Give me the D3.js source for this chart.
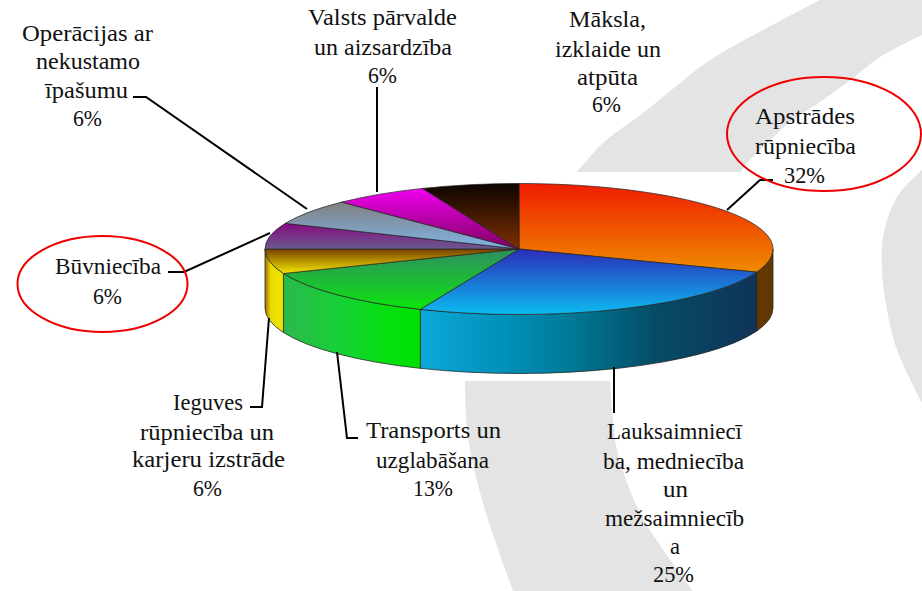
<!DOCTYPE html>
<html><head><meta charset="utf-8">
<script src="https://cdn.jsdelivr.net/npm/d3@7/dist/d3.min.js"></script>
<style>html,body{margin:0;padding:0;background:#fff;overflow:hidden}svg{display:block}text{font-family:"Liberation Serif",serif;fill:#111}</style>
</head><body><svg id="c" width="922" height="591"></svg>
<script>
// ---- data ----
const categories = ["Apstrādes rūpniecība","Lauksaimniecība, medniecība un mežsaimniecība","Transports un uzglabāšana","Ieguves rūpniecība un karjeru izstrāde","Būvniecība","Operācijas ar nekustamo īpašumu","Valsts pārvalde un aizsardzība","Māksla, izklaide un atpūta"];
const percentLabels = [32,25,13,6,6,6,6,6];
// slice shares as actually drawn in the tilted picture (percent of the turn, measured from the slice boundaries)
const sliceShares = [30.75,25.6,12.55,6.1,6.4,6.3,6.1,6.2];
const labelLines = [
 ["Apstrādes","rūpniecība"],
 ["Lauksaimniecī","ba, medniecība","un","mežsaimniecīb","a"],
 ["Transports un","uzglabāšana"],
 ["Ieguves","rūpniecība un","karjeru izstrāde"],
 ["Būvniecība"],
 ["Operācijas ar","nekustamo","īpašumu"],
 ["Valsts pārvalde","un aizsardzība"],
 ["Māksla,","izklaide un","atpūta"]
];
// ---- layout and style, separate from the data ----
// each line: [left, right, baseline]
const lineBoxes = [
 [[755,855,124],[755,856,154],[784,825,183]],
 [[607,742,439],[603,744,469],[663,688,497],[605,744,526],[670,680,554],[653,694,582]],
 [[366,501,438],[376,489,468],[413,453,496]],
 [[173,243,410],[140,274,440],[132,285,467],[193,222,496]],
 [[55,161,274],[93,122,304]],
 [[22,153,41],[36,140,69],[45,128,98],[73,102,126]],
 [[308,457,25],[314,452,55],[368,397,83]],
 [[569,646,27],[555,661,57],[577,638,85],[592,621,112]]
];
const leaders = [
 [[773,180],[760,180],[727,210]],
 [[614,413],[614,367]],
 [[358,438],[347,438],[337,352]],
 [[250,407],[262,407],[269,318]],
 [[168,272],[184,272],[270,233]],
 [[133,97],[146,97],[307,209]],
 [[377,87],[377,192]]
];
const topGradients = [["#f01c00","#ee8c00"],["#2c2cb8","#0cbcf0"],["#2e8e62","#0ee40e"],["#784000","#f4e800"],["#860a80","#685a90"],["#808080","#80b4e8"],["#f000f0","#800060"],["#0c0400","#803000"]];
const sideGradients = [
 [[0,"#603800"],[1,"#603800"]],
 [[0,"#0ca8d8"],[.25,"#0090b8"],[.45,"#007896"],[.7,"#064c66"],[1,"#103358"]],
 [[0,"#2cb84c"],[.4,"#18d038"],[.75,"#04e010"],[1,"#00e000"]],
 [[0,"#a06800"],[.3,"#e8d800"],[1,"#f0e800"]]
];
const cx=519, cy=249, rx=254, ry=65.5, depth=59;
const bgColor="#e4e4e4";
// each watermark shape: a list of curved edges, joined by straight runs
const bgShapes = [
 [[[577,172],[603,143],[643,113],[680,83],[710,60],[780,21],[820,0]],
  [[922,35],[880,57],[857,75],[823,100],[790,122],[763,147],[747,163],[741,172]]],
 [[[922,170],[897,197],[883,237],[882,270],[887,310],[897,350],[922,403]]],
 [[[465,381],[468,437],[483,503],[513,591]],
  [[693,591],[640,513],[617,450],[613,420],[610,381]]]
];
const bgCorners = [[[922,0]],[],[]];
const circles = [[824,134,97,57],[102.5,284,85,48]];

const svg=d3.select("#c");
const defs=svg.append("defs");
// background watermark
const smooth=d3.line().curve(d3.curveCatmullRom.alpha(.5));
const shapePath=(edges,k)=>{
  let s=smooth(edges[0]);
  bgCorners[k].forEach(c=>{s+="L"+c[0]+","+c[1];});
  edges.slice(1).forEach(e=>{s+="L"+smooth(e).slice(1);});
  return s+"Z";
};
svg.append("g").selectAll("path").data(bgShapes).join("path")
  .attr("d",shapePath).attr("fill",bgColor);

// pie
const pieLayout=d3.pie().sort(null).value(d=>d)(sliceShares);
const arc=d3.arc().innerRadius(0).outerRadius(rx);
function grad(id,stops,vertical){
  const g=defs.append("linearGradient").attr("id",id)
    .attr("x1",0).attr("y1",0).attr("x2",vertical?0:1).attr("y2",vertical?1:0);
  g.selectAll("stop").data(stops).join("stop").attr("offset",d=>d[0]).attr("stop-color",d=>d[1]);
}
topGradients.forEach((c,i)=>grad("top"+i,[[0,c[0]],[1,c[1]]],true));
sideGradients.forEach((s,i)=>grad("side"+i,s,false));

const px=a=>cx+rx*Math.sin(a), py=a=>cy-ry*Math.cos(a);
const sides=pieLayout.map((d,i)=>({i,a0:Math.max(d.startAngle,Math.PI/2),a1:Math.min(d.endAngle,Math.PI*1.5)}))
  .filter(d=>d.a1>d.a0);
svg.append("g").selectAll("path").data(sides).join("path")
  .attr("d",d=>`M${px(d.a0)},${py(d.a0)}A${rx},${ry} 0 0 1 ${px(d.a1)},${py(d.a1)}L${px(d.a1)},${py(d.a1)+depth}A${rx},${ry} 0 0 0 ${px(d.a0)},${py(d.a0)+depth}Z`)
  .attr("fill",d=>`url(#side${d.i})`)
  .attr("stroke","#222").attr("stroke-opacity",.75).attr("stroke-width",1);

const topG=svg.append("g").attr("transform",`translate(${cx},${cy}) scale(1,${ry/rx})`);
topG.selectAll("path").data(pieLayout).join("path")
  .attr("d",arc).attr("fill",(d,i)=>`url(#top${i})`)
  .attr("stroke","#222").attr("stroke-opacity",.7).attr("stroke-width",1)
  .attr("vector-effect","non-scaling-stroke");

// leaders
const straight=d3.line();
svg.append("g").selectAll("path").data(leaders).join("path")
  .attr("d",straight).attr("fill","none").attr("stroke","#000").attr("stroke-width",2);

// labels
const flat=[];
labelLines.forEach((ls,i)=>{
  [...ls,percentLabels[i]+"%"].forEach((t,j)=>flat.push({t,b:lineBoxes[i][j]}));
});
svg.append("g").selectAll("text").data(flat).join("text")
  .attr("x",d=>d.b[0]).attr("y",d=>d.b[2])
  .attr("font-size",23)
  .attr("textLength",d=>d.b[1]-d.b[0]).attr("lengthAdjust","spacingAndGlyphs")
  .text(d=>d.t);

// red highlight ellipses
svg.append("g").selectAll("ellipse").data(circles).join("ellipse")
  .attr("cx",d=>d[0]).attr("cy",d=>d[1]).attr("rx",d=>d[2]).attr("ry",d=>d[3])
  .attr("fill","none").attr("stroke","#ee0000").attr("stroke-width",2);
</script></body></html>
